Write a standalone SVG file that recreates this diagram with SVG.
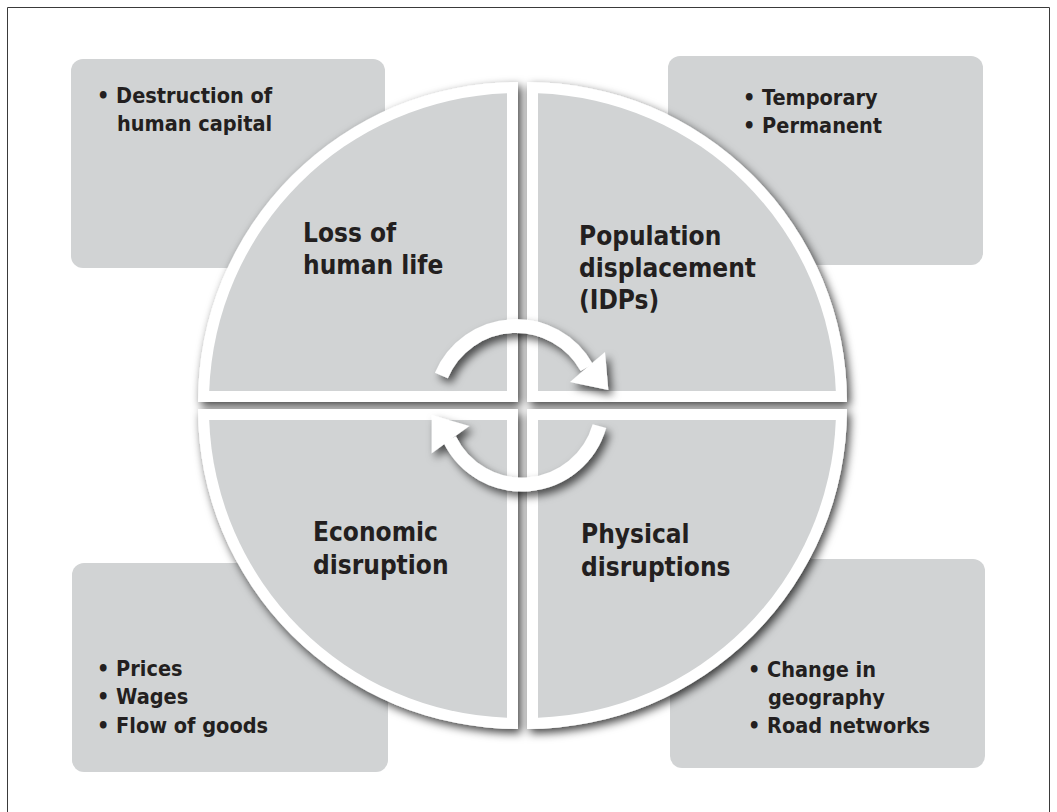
<svg xmlns="http://www.w3.org/2000/svg" width="1057" height="812" viewBox="0 0 1057 812">
<defs>
<style>
.box{fill:#d1d3d4}
.qw{fill:#ffffff}
.qg{fill:#d1d3d4}
.t{font-family:"DejaVu Sans Condensed","DejaVu Sans",sans-serif;font-stretch:condensed;font-weight:bold;fill:#231f20}
.b{font-size:21.5px}
.h{font-size:26px}
.arc{fill:none;stroke:#ffffff;stroke-width:14}
.head{fill:#ffffff}
</style>
<filter id="sh" x="-10%" y="-10%" width="130%" height="130%">
<feDropShadow dx="3" dy="4" stdDeviation="5" flood-color="#000000" flood-opacity="0.75"/>
</filter>
<filter id="ash" x="-30%" y="-30%" width="160%" height="160%">
<feDropShadow dx="4" dy="5" stdDeviation="4" flood-color="#000000" flood-opacity="0.65"/>
</filter>
</defs>
<rect width="1057" height="812" fill="#ffffff"/>
<path d="M7.5,812 V7.5 H1049.5 V812" fill="none" stroke="#3a3a3a" stroke-width="1"/>

<g id="box-human-capital">
<rect class="box" x="71" y="59" width="314" height="209" rx="12"/>
<text class="t b"><tspan x="97" y="103">• Destruction of</tspan><tspan x="117" y="131">human capital</tspan></text>
</g>
<g id="box-displacement-types">
<rect class="box" x="668" y="56" width="315" height="209" rx="12"/>
<text class="t b"><tspan x="743" y="105">• Temporary</tspan><tspan x="743" y="133">• Permanent</tspan></text>
</g>
<g id="box-economic">
<rect class="box" x="72" y="563" width="316" height="209" rx="12"/>
<text class="t b"><tspan x="97" y="676">• Prices</tspan><tspan x="97" y="704">• Wages</tspan><tspan x="97" y="733">• Flow of goods</tspan></text>
</g>
<g id="box-physical">
<rect class="box" x="670" y="559" width="315" height="209" rx="12"/>
<text class="t b"><tspan x="748" y="677">• Change in</tspan><tspan x="768" y="705">geography</tspan><tspan x="748" y="733">• Road networks</tspan></text>
</g>

<g id="circle" filter="url(#sh)">
<path class="qw" d="M518,402 L518,82 A320,320 0 0 0 198,402 Z"/>
<path class="qw" d="M527,402 L527,82 A320,320 0 0 1 847,402 Z"/>
<path class="qw" d="M518,409 L518,729 A320,320 0 0 1 198,409 Z"/>
<path class="qw" d="M527,409 L527,729 A320,320 0 0 0 847,409 Z"/>
</g>
<g id="q-loss-of-life">
<path class="qg" d="M507,391 L507,93.2 A309,309 0 0 0 209.2,391 Z"/>
<text class="t h"><tspan x="303" y="242">Loss of</tspan><tspan x="303" y="274">human life</tspan></text>
</g>
<g id="q-population-displacement">
<path class="qg" d="M538,391 L538,93.2 A309,309 0 0 1 835.8,391 Z"/>
<text class="t h"><tspan x="579" y="245">Population</tspan><tspan x="579" y="277">displacement</tspan><tspan x="579" y="309">(IDPs)</tspan></text>
</g>
<g id="q-economic-disruption">
<path class="qg" d="M507,420 L507,717.8 A309,309 0 0 1 209.2,420 Z"/>
<text class="t h"><tspan x="313" y="541">Economic</tspan><tspan x="313" y="574">disruption</tspan></text>
</g>
<g id="q-physical-disruptions">
<path class="qg" d="M538,420 L538,717.8 A309,309 0 0 0 835.8,420 Z"/>
<text class="t h"><tspan x="581" y="543">Physical</tspan><tspan x="581" y="576">disruptions</tspan></text>
</g>

<g id="connectors" filter="url(#ash)">
<path class="arc" d="M441.4,375.4 A81,81 0 0 1 586.8,367.7"/>
<polygon class="head" points="570,382 605,352 608.3,390"/>
<path class="arc" d="M599.4,426.2 A80.5,80.5 0 0 1 449.6,439.3"/>
<polygon class="head" points="469.3,426 431.7,453.3 431.7,415"/>
</g>
</svg>
